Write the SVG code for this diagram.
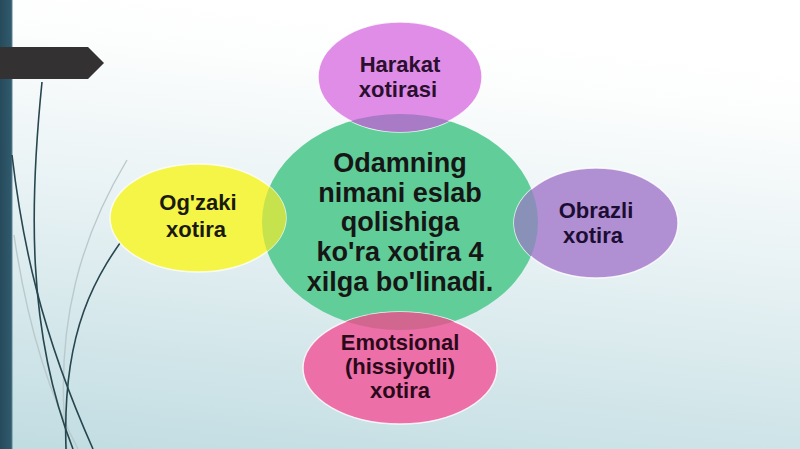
<svg xmlns="http://www.w3.org/2000/svg" width="800" height="449" viewBox="0 0 800 449">
<defs>
<linearGradient id="bg" x1="0.3" y1="0" x2="0.1" y2="1">
<stop offset="0" stop-color="#ffffff"/>
<stop offset="0.12" stop-color="#fcfdfd"/>
<stop offset="0.45" stop-color="#e8f2f4"/>
<stop offset="1" stop-color="#c2dde2"/>
</linearGradient>
<linearGradient id="bar" x1="0" y1="0" x2="1" y2="0">
<stop offset="0" stop-color="#264a5b"/>
<stop offset="0.85" stop-color="#2f5a6c"/>
<stop offset="1" stop-color="#5d8594"/>
</linearGradient>
<clipPath id="cc"><ellipse cx="400" cy="222" rx="138" ry="108"/></clipPath>
</defs>
<style>
.sat{stroke:#ffffff;stroke-width:1.5;stroke-opacity:0.8}
.t{font-family:"Liberation Sans",Arial,sans-serif;font-weight:bold;text-anchor:middle}
.big{font-size:27px;fill:#161616}
.small{font-size:22px}
.curve{fill:none;stroke:#27464f;stroke-width:1.6}
.faint{fill:none;stroke:#b9c9cc;stroke-width:1.4}
</style>
<rect width="800" height="449" fill="url(#bg)"/>
<rect x="0" y="0" width="12.5" height="449" fill="url(#bar)"/>
<polygon points="0,47 88,47 104,63 88,79 0,79" fill="#343132"/>
<g id="decor-curves">
<path class="faint" d="M127 160 C 85 230, 52 320, 67 449"/>
<path class="faint" d="M14 235 C 28 330, 52 400, 78 449"/>
<path class="curve" d="M12 155 C 22 240, 40 330, 93 449"/>
<path class="curve" d="M42 82 C 30 200, 26 330, 73 449"/>
<path class="curve" d="M134 224 C 95 275, 62 330, 66 449"/>
</g>
<g id="connectors"></g>
<g id="center">
<ellipse cx="400" cy="222" rx="138" ry="108" fill="#61cd98"/>
</g>
<g id="harakat">
<ellipse class="sat" cx="400" cy="77" rx="82" ry="55" fill="#df8de6"/>
<ellipse cx="400" cy="77" rx="82" ry="55" fill="#a97bc7" clip-path="url(#cc)"/>
<text class="t small" x="400" y="72" fill="#2a0f2e">Harakat</text>
<text class="t small" x="398" y="97" fill="#2a0f2e">xotirasi</text>
</g>
<g id="ogzaki">
<ellipse class="sat" cx="198" cy="218" rx="88" ry="54" fill="#f4f546"/>
<ellipse cx="198" cy="218" rx="88" ry="54" fill="#c6e24c" clip-path="url(#cc)"/>
<text class="t small" x="198" y="210" fill="#1a1a10">Og'zaki</text>
<text class="t small" x="196" y="237" fill="#1a1a10">xotira</text>
</g>
<g id="obrazli">
<ellipse class="sat" cx="596" cy="223" rx="82" ry="55" fill="#b18fd3"/>
<ellipse cx="596" cy="223" rx="82" ry="55" fill="#8a91b9" clip-path="url(#cc)"/>
<text class="t small" x="596" y="218" fill="#1c0e33">Obrazli</text>
<text class="t small" x="593" y="243" fill="#1c0e33">xotira</text>
</g>
<g id="emotsional">
<ellipse class="sat" cx="400" cy="368" rx="97" ry="56" fill="#ec6fa7"/>
<ellipse cx="400" cy="368" rx="97" ry="56" fill="#d1668f" clip-path="url(#cc)"/>
<text class="t small" x="400" y="350" fill="#2a0a1a">Emotsional</text>
<text class="t small" x="400" y="374" fill="#2a0a1a">(hissiyotli)</text>
<text class="t small" x="400" y="398" fill="#2a0a1a">xotira</text>
</g>
<g id="center-text">
<text class="t big" x="400" y="172">Odamning</text>
<text class="t big" x="400" y="202">nimani eslab</text>
<text class="t big" x="400" y="231">qolishiga</text>
<text class="t big" x="400" y="261">ko'ra xotira 4</text>
<text class="t big" x="400" y="291">xilga bo'linadi.</text>
</g>
</svg>
